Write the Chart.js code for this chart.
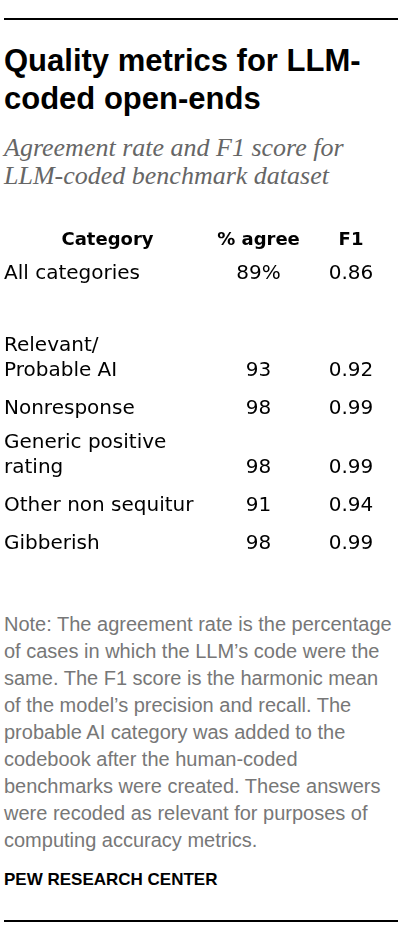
<!DOCTYPE html>
<html>
<head>
<meta charset="utf-8">
<script src="https://cdn.jsdelivr.net/npm/chart.js@4.4.1/dist/chart.umd.min.js"></script>
<style>
  html, body { margin: 0; padding: 0; background: #fff; }
  body { width: 400px; height: 940px; position: relative; overflow: hidden; }
  .rule { position: absolute; left: 4px; width: 394px; height: 2px; background: #000; }
  .title { position: absolute; left: 4px; top: 42px; font-family: "Liberation Sans", Arial, sans-serif; font-weight: bold; font-size: 31px; line-height: 38px; color: #000; white-space: nowrap; }
  .subtitle { position: absolute; left: 4px; top: 133.7px; font-family: "Liberation Serif", "Times New Roman", serif; font-style: italic; font-size: 26px; line-height: 28.5px; color: #666; white-space: nowrap; }
  .note { position: absolute; left: 4px; top: 611.3px; font-family: "Liberation Sans", Arial, sans-serif; font-size: 20px; line-height: 26.9px; color: #777; white-space: nowrap; }
  .source { position: absolute; left: 4px; top: 869.8px; font-family: "Liberation Sans", Arial, sans-serif; font-weight: bold; font-size: 17px; line-height: 20px; color: #000; white-space: nowrap; }
  #wrap { position: absolute; left: 0; top: 203px; width: 400px; height: 380px; }
</style>
</head>
<body>
<div class="rule" style="top:18px"></div>
<div class="title">Quality metrics for LLM-<br>coded open-ends</div>
<div class="subtitle">Agreement rate and F1 score for<br>LLM-coded benchmark dataset</div>
<div id="wrap"><canvas id="c" width="400" height="380"></canvas></div>
<div class="note">Note: The agreement rate is the percentage<br>of cases in which the LLM’s code were the<br>same. The F1 score is the harmonic mean<br>of the model’s precision and recall. The<br>probable AI category was added to the<br>codebook after the human-coded<br>benchmarks were created. These answers<br>were recoded as relevant for purposes of<br>computing accuracy metrics.</div>
<div class="source">PEW RESEARCH CENTER</div>
<div class="rule" style="top:920px"></div>
<script>
// ---- data ----
const categories = ["All categories", "Relevant/\nProbable AI", "Nonresponse", "Generic positive\nrating", "Other non sequitur", "Gibberish"];
const columnHeaders = ["% agree", "F1"];
const categoryHeader = "Category";
const agreeValues = [89, 93, 98, 98, 91, 98];
const f1Values = [0.86, 0.92, 0.99, 0.99, 0.94, 0.99];

// ---- layout (row positions derived from label line counts) ----
const rowLines = categories.map(c => c.split("\n"));
const rowPos = [];
rowLines.forEach((lines, i) => {
  if (i === 0) { rowPos.push(1); return; }
  const gap = (i === 1) ? 1 : 0; // spacer between overall row and the categories
  rowPos.push(rowPos[i - 1] + 1 + gap + 0.55 * (lines.length - 1));
});
const headerPos = 0.105;

const fmtAgree = (v, i) => i === 0 ? v + "%" : String(v);
const fmtF1 = v => v.toFixed(2);

const tablePlugin = {
  id: 'tableText',
  afterDatasetsDraw(chart) {
    const ctx = chart.ctx;
    const y = chart.scales.y;
    const x = chart.scales.x;
    ctx.save();
    ctx.fillStyle = '#000';
    ctx.textBaseline = 'alphabetic';
    // header
    ctx.font = 'bold 18px "DejaVu Sans", sans-serif';
    ctx.textAlign = 'center';
    const hy = y.getPixelForValue(headerPos);
    ctx.fillText(categoryHeader, 107.5, hy);
    columnHeaders.forEach((h, j) => ctx.fillText(h, x.getPixelForValue(j), hy));
    // category labels
    ctx.font = '20px "DejaVu Sans", sans-serif';
    ctx.textAlign = 'left';
    rowLines.forEach((lines, i) => {
      const py = y.getPixelForValue(rowPos[i]);
      const n = lines.length;
      lines.forEach((ln, k) => ctx.fillText(ln, 4, py - (n - 1 - k) * 25));
    });
    // values
    ctx.textAlign = 'center';
    chart.data.datasets.forEach((ds, di) => {
      const meta = chart.getDatasetMeta(di);
      meta.data.forEach((el, i) => {
        const txt = di === 0 ? fmtAgree(ds.data[i].v, i) : fmtF1(ds.data[i].v);
        ctx.fillText(txt, el.x, el.y);
      });
    });
    ctx.restore();
  }
};

new Chart(document.getElementById('c'), {
  type: 'scatter',
  data: {
    datasets: [
      { label: columnHeaders[0], data: agreeValues.map((v, i) => ({ x: columnHeaders[0], y: rowPos[i], v })), pointRadius: 0, pointHoverRadius: 0 },
      { label: columnHeaders[1], data: f1Values.map((v, i) => ({ x: columnHeaders[1], y: rowPos[i], v })), pointRadius: 0, pointHoverRadius: 0 }
    ]
  },
  options: {
    responsive: false,
    animation: false,
    devicePixelRatio: 1,
    layout: { padding: { left: 212.25, right: 2.75, top: 0, bottom: 0 } },
    plugins: { legend: { display: false }, tooltip: { enabled: false } },
    events: [],
    scales: {
      x: { type: 'category', labels: columnHeaders, offset: true, display: false },
      y: { type: 'linear', reverse: true, min: -1, max: 9, display: false }
    }
  },
  plugins: [tablePlugin]
});
</script>
</body>
</html>
